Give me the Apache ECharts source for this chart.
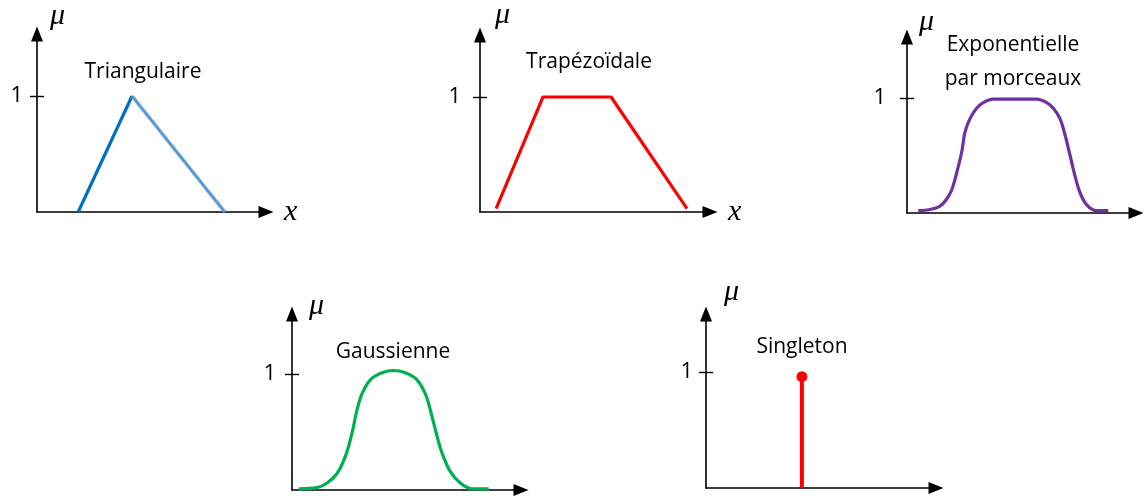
<!DOCTYPE html>
<html>
<head>
<meta charset="utf-8">
<script src="https://cdn.jsdelivr.net/npm/echarts@6/dist/echarts.min.js"></script>
<style>
  html, body { margin: 0; padding: 0; background: #fff; }
  #chart { width: 1144px; height: 498px; }
</style>
</head>
<body>
<div id="chart"></div>
<script>
// data (x in arbitrary units 0..10, y = membership)
const triRise = [[1.8, 0], [4.15, 1]]
const triFall = [[4.15, 1], [8.2, 0]]
const trapeze = [[0.7, 0.03], [2.74, 1], [5.7, 1], [9.0, 0.03]]
const expoX = [0.49, 1.0, 1.44, 1.73, 1.95, 2.17, 2.39, 2.53, 2.75, 3.04, 3.33, 3.77, 5.66, 6.10, 6.39, 6.68, 6.90, 7.12, 7.34, 7.55, 7.85, 8.28, 8.79]
const expoY = [0.02, 0.03, 0.06, 0.12, 0.20, 0.35, 0.53, 0.70, 0.82, 0.91, 0.96, 0.99, 0.99, 0.96, 0.91, 0.82, 0.68, 0.50, 0.32, 0.18, 0.07, 0.02, 0.02]
const gaussX = [0.29, 1.09, 1.53, 1.96, 2.33, 2.62, 2.84, 3.06, 3.42, 3.93, 4.44, 4.95, 5.46, 5.82, 6.04, 6.26, 6.55, 6.91, 7.35, 7.86, 8.59]
const gaussY = [0.01, 0.02, 0.06, 0.14, 0.29, 0.49, 0.69, 0.83, 0.95, 1.01, 1.03, 1.01, 0.95, 0.83, 0.69, 0.52, 0.32, 0.16, 0.06, 0.01, 0.01]
const singleton = [[4.17, 0], [4.17, 0.96]]
const singletonTop = [[4.17, 0.96]]
const tickValues = [1]
const titles = ['Triangulaire', 'Trapézoïdale', 'Exponentielle\npar morceaux', 'Gaussienne', 'Singleton']

// one small panel per membership function
const panels = [
  {left: 37, top: 34, width: 229, height: 178, yMax: 1.534, labelMargin: 14, muGap: 3, muPad: 13, xName: 'x', tx: 143, ty: 72},
  {left: 480, top: 35, width: 230, height: 177, yMax: 1.539, labelMargin: 19, muGap: 5, muPad: 15, xName: 'x', tx: 589, ty: 62},
  {left: 907, top: 37, width: 229, height: 176, yMax: 1.530, labelMargin: 21, muGap: 0, muPad: 12, xName: '', tx: 1013, ty: 62},
  {left: 292, top: 314, width: 229, height: 176, yMax: 1.517, labelMargin: 16, muGap: -7, muPad: 17, xName: '', tx: 393, ty: 352},
  {left: 706, top: 314, width: 230, height: 174, yMax: 1.5, labelMargin: 13, muGap: 7, muPad: 18, xName: '', tx: 802, ty: 347}
]

const axisStroke = {color: '#000', width: 1.6}
const labelFont = 'Open Sans'
const mathFont = {fontFamily: 'Liberation Serif', fontStyle: 'italic', fontSize: 30, color: '#000'}

const grid = panels.map(p => ({left: p.left, top: p.top, width: p.width, height: p.height, outerBoundsMode: 'none'}))

const xAxis = panels.map((p, i) => ({
  type: 'value',
  gridIndex: i,
  min: 0,
  max: 10,
  name: p.xName,
  nameLocation: 'end',
  nameGap: 18,
  nameTextStyle: Object.assign({}, mathFont, {verticalAlign: 'middle', padding: [0, 0, 4, 0]}),
  axisLine: {lineStyle: axisStroke, symbol: ['none', 'triangle'], symbolSize: [12, 15]},
  axisTick: {show: false},
  axisLabel: {show: false},
  splitLine: {show: false}
}))

const yAxis = []
panels.forEach((p, i) => {
  yAxis.push({
    type: 'value',
    gridIndex: i,
    position: 'left',
    min: 0,
    max: p.yMax,
    name: 'μ',
    nameLocation: 'end',
    nameGap: p.muGap,
    nameTextStyle: Object.assign({}, mathFont, {align: 'left', padding: [0, 0, 0, p.muPad]}),
    axisLine: {lineStyle: axisStroke, symbol: ['none', 'triangle'], symbolSize: [12, 15]},
    axisTick: {show: true, length: 7, customValues: tickValues, lineStyle: {color: '#000', width: 1.4}},
    axisLabel: {customValues: tickValues, margin: p.labelMargin, color: '#000', fontFamily: labelFont, fontSize: 22},
    splitLine: {show: false}
  })
  // second axis on the same side, only to draw the inner half of the tick at 1
  yAxis.push({
    type: 'value',
    gridIndex: i,
    position: 'left',
    min: 0,
    max: p.yMax,
    axisLine: {show: false},
    axisTick: {show: true, inside: true, length: 7, customValues: tickValues, lineStyle: {color: '#000', width: 1.4}},
    axisLabel: {show: false},
    splitLine: {show: false}
  })
})

const lineSeries = (xi, yi, data, color, width, smooth) => ({
  type: 'line',
  xAxisIndex: xi,
  yAxisIndex: yi,
  data: data,
  showSymbol: false,
  smooth: smooth || false,
  lineStyle: {color: color, width: width},
  silent: true
})

const series = [
  lineSeries(0, 0, triRise, '#0070C0', 3.2),
  lineSeries(0, 0, triFall, '#5B9BD5', 3.2),
  lineSeries(1, 2, trapeze, '#FF0000', 3.2),
  lineSeries(2, 4, expoX.map((x, k) => [x, expoY[k]]), '#7030A0', 3.2, 0.35),
  lineSeries(3, 6, gaussX.map((x, k) => [x, gaussY[k]]), '#00B050', 3.2, 0.35),
  lineSeries(4, 8, singleton, '#FF0000', 4),
  {
    type: 'scatter',
    xAxisIndex: 4,
    yAxisIndex: 8,
    data: singletonTop,
    symbolSize: 11,
    itemStyle: {color: '#FF0000', opacity: 1},
    silent: true
  }
]

const title = panels.map((p, i) => ({
  text: titles[i],
  left: p.tx,
  top: p.ty,
  textAlign: 'center',
  textVerticalAlign: 'middle',
  padding: 0,
  textStyle: {fontFamily: labelFont, fontSize: 21, fontWeight: 'normal', color: '#000', lineHeight: 34}
}))

const chart = echarts.init(document.getElementById('chart'), null, {renderer: 'canvas'})
chart.setOption({
  animation: false,
  backgroundColor: '#fff',
  title: title,
  grid: grid,
  xAxis: xAxis,
  yAxis: yAxis,
  series: series
})
</script>
</body>
</html>
